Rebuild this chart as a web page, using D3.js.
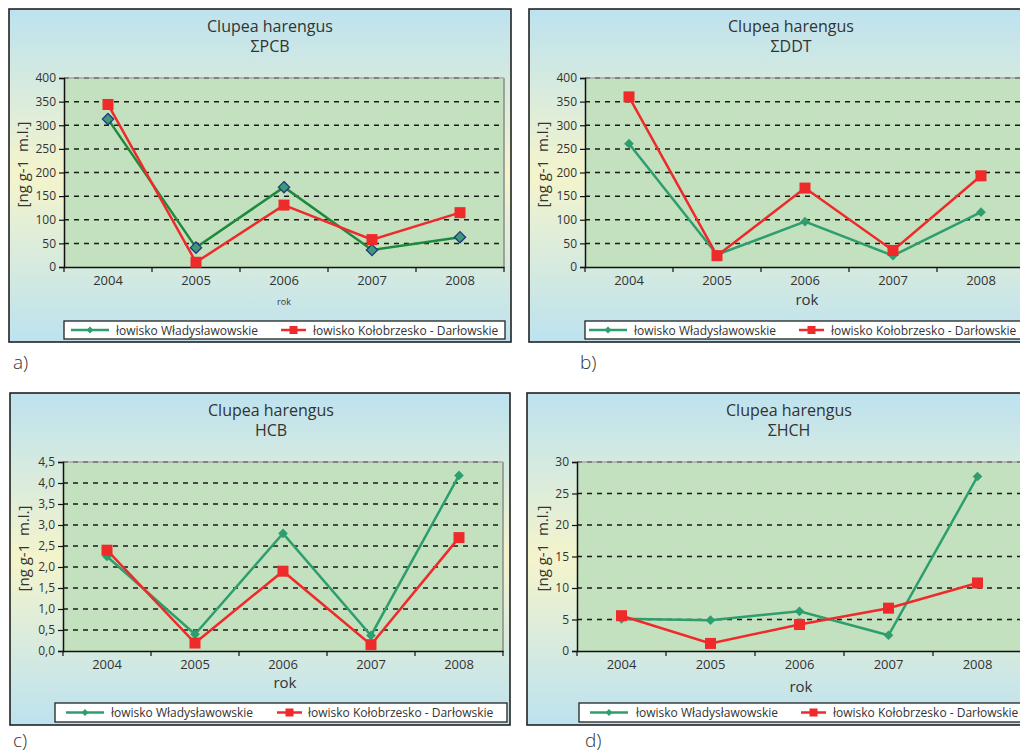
<!DOCTYPE html>
<html><head><meta charset="utf-8">
<script src="https://cdn.jsdelivr.net/npm/d3@7"></script>
<style>
html,body{margin:0;padding:0;background:#fff;}
svg{display:block;font-family:"Open Sans","Noto Sans",sans-serif;}
</style></head>
<body>
<svg id="chart" width="1020" height="753"></svg>
<script>
// ---------- data ----------
const years = ["2004", "2005", "2006", "2007", "2008"];
const seriesNames = ["łowisko Władysławowskie", "łowisko Kołobrzesko - Darłowskie"];
const chartTitle = "Clupea harengus";
const subTitles = ["ΣPCB", "ΣDDT", "HCB", "ΣHCH"];
const panelLabels = ["a)", "b)", "c)", "d)"];
const yAxisTitle = "[ng g-1  m.l.]";
const xAxisTitle = "rok";

const pcbWlad = [313, 41, 169, 36, 63];
const pcbKolo = [344, 10, 131, 58, 115];
const ddtWlad = [261, 26, 96, 24, 116];
const ddtKolo = [360, 24, 167, 35, 193];
const hcbWlad = [2.25, 0.40, 2.80, 0.37, 4.18];
const hcbKolo = [2.40, 0.19, 1.90, 0.15, 2.70];
const hchWlad = [5.1, 4.9, 6.3, 2.5, 27.7];
const hchKolo = [5.6, 1.2, 4.2, 6.8, 10.8];

const pcbTicks = [0, 50, 100, 150, 200, 250, 300, 350, 400];
const ddtTicks = [0, 50, 100, 150, 200, 250, 300, 350, 400];
const hcbTicks = [0, 0.5, 1.0, 1.5, 2.0, 2.5, 3.0, 3.5, 4.0, 4.5];
const hchTicks = [0, 5, 10, 15, 20, 25, 30];

// ---------- layout ----------
const panels = [
  {sub: 0, w: pcbWlad, k: pcbKolo, ticks: pcbTicks, dec: 0, dark: true,
   box: [9, 9, 502, 333], plot: [64, 78, 504, 267], titleX: 270, titleY: 32,
   yTitleX: 22, rokX: 284, rokY: 305, rokSize: 9, leg: [64, 321, 441, 18], legOff: [7, 52, 217, 249],
   lab: [13, 369]},
  {sub: 1, w: ddtWlad, k: ddtKolo, ticks: ddtTicks, dec: 0, dark: false,
   box: [529, 9, 502, 333], plot: [585, 78, 1025, 267], titleX: 791, titleY: 32,
   yTitleX: 542, rokX: 807, rokY: 305, rokSize: 15, leg: [585, 321, 441, 18], legOff: [4, 49, 214, 246],
   lab: [580, 369]},
  {sub: 2, w: hcbWlad, k: hcbKolo, ticks: hcbTicks, dec: 1, dark: false,
   box: [10, 393, 500, 332], plot: [63, 462, 503, 651], titleX: 271, titleY: 416,
   yTitleX: 23, rokX: 285, rokY: 688, rokSize: 15, leg: [55, 703, 452, 19], legOff: [11, 56, 222, 253],
   lab: [13, 747]},
  {sub: 3, w: hchWlad, k: hchKolo, ticks: hchTicks, dec: 0, dark: false,
   box: [527, 393, 503, 332], plot: [577, 462, 1022, 651], titleX: 789, titleY: 416,
   yTitleX: 542, rokX: 801, rokY: 692, rokSize: 15, leg: [579, 703, 450, 19], legOff: [11, 57, 222, 254],
   lab: [585, 747]}
];

const svg = d3.select("#chart");
const defs = svg.append("defs");
const bg = defs.append("linearGradient").attr("id", "bgGrad").attr("x1", 0).attr("y1", 0).attr("x2", 0).attr("y2", 1);
bg.append("stop").attr("offset", "0").attr("stop-color", "#bde2ef");
bg.append("stop").attr("offset", "0.5").attr("stop-color", "#f4f4cc");
bg.append("stop").attr("offset", "1").attr("stop-color", "#bde2ef");

const textCol = "#333";
const redCol = "#ee2a2a";
const fmtComma = d3.format(".1f");

panels.forEach(p => {
  const g = svg.append("g");
  const [bx, by, bw, bh] = p.box;
  g.append("rect").attr("x", bx).attr("y", by).attr("width", bw).attr("height", bh)
    .attr("fill", "url(#bgGrad)").attr("stroke", "#222").attr("stroke-width", 1.6);

  // titles
  g.append("text").attr("x", p.titleX).attr("y", p.titleY).attr("text-anchor", "middle")
    .attr("font-size", 16).attr("fill", textCol).text(chartTitle);
  g.append("text").attr("x", p.titleX).attr("y", p.titleY + 20).attr("text-anchor", "middle")
    .attr("font-size", 16).attr("fill", textCol).text(subTitles[p.sub]);

  const [x0, y0, x1, y1] = p.plot;
  const x = d3.scaleBand().domain(years).range([x0, x1]);
  const yMax = p.ticks[p.ticks.length - 1];
  const y = d3.scaleLinear().domain([0, yMax]).range([y1, y0]);

  g.append("rect").attr("x", x0).attr("y", y0).attr("width", x1 - x0).attr("height", y1 - y0)
    .attr("fill", "#c3e1be");
  g.append("line").attr("x1", x1).attr("x2", x1).attr("y1", y0).attr("y2", y1)
    .attr("stroke", "#8a8a8a").attr("stroke-width", 1.5);

  // grid
  p.ticks.filter(t => t > 0).forEach(t => {
    const isTop = t === yMax;
    if (isTop) {
      g.append("line").attr("x1", x0).attr("x2", x1).attr("y1", y(t)).attr("y2", y(t))
        .attr("stroke", "#a8a8a8").attr("stroke-width", 1.5);
    }
    g.append("line").attr("x1", x0).attr("x2", x1).attr("y1", y(t)).attr("y2", y(t))
      .attr("stroke", isTop ? "#707070" : "#1a1a1a").attr("stroke-width", 1.5)
      .attr("stroke-dasharray", "5,5");
  });

  // y axis
  const yAxis = d3.axisLeft(y).tickValues(p.ticks).tickSize(5).tickPadding(3)
    .tickFormat(d => p.dec ? fmtComma(d).replace(".", ",") : d3.format("d")(d));
  const ya = g.append("g").attr("transform", `translate(${x0},0)`).call(yAxis);
  ya.select(".domain").attr("stroke", "#111").attr("stroke-width", 1.5);
  ya.selectAll(".tick line").attr("stroke", "#111").attr("stroke-width", 1.2);
  ya.selectAll(".tick text").attr("font-size", 12).attr("fill", textCol)
    .attr("font-family", "'Open Sans',sans-serif");

  // x axis
  const xa = g.append("g").attr("transform", `translate(0,${y1})`)
    .call(d3.axisBottom(x).tickSize(0).tickPadding(9));
  xa.select(".domain").attr("stroke", "#111").attr("stroke-width", 1.5);
  xa.selectAll(".tick text").attr("font-size", 13).attr("fill", textCol)
    .attr("font-family", "'Open Sans',sans-serif");
  const edges = years.map(d => x(d)).concat([x1]);
  g.selectAll(null).data(edges).enter().append("line")
    .attr("x1", d => d).attr("x2", d => d).attr("y1", y1).attr("y2", y1 + 5)
    .attr("stroke", "#111").attr("stroke-width", 1.2);

  // axis titles
  g.append("text").attr("transform", `translate(${p.yTitleX},${(y0 + y1) / 2 - 8}) rotate(-90)`)
    .attr("text-anchor", "middle").attr("dominant-baseline", "central")
    .attr("font-size", 15).attr("fill", textCol).style("white-space", "pre").text(yAxisTitle);
  g.append("text").attr("x", p.rokX).attr("y", p.rokY).attr("text-anchor", "middle")
    .attr("font-size", p.rokSize).attr("fill", textCol).text(xAxisTitle);

  // series
  const greenLine = p.dark ? "#1f8a3e" : "#2e9e6e";
  const diamondFill = p.dark ? "#3a9a7a" : "#2e9e6e";
  const diamondStroke = p.dark ? "#283580" : "#2e9e6e";
  const line = d3.line().x((d, i) => x(years[i]) + x.bandwidth() / 2).y(d => y(d));

  g.append("path").datum(p.w).attr("d", line).attr("fill", "none")
    .attr("stroke", greenLine).attr("stroke-width", 2.5);
  g.append("path").datum(p.k).attr("d", line).attr("fill", "none")
    .attr("stroke", redCol).attr("stroke-width", 2.5);

  const diamond = d3.symbol().type(d3.symbolDiamond2).size(p.dark ? 80 : 60);
  g.selectAll(null).data(p.w).enter().append("path")
    .attr("d", diamond)
    .attr("transform", (d, i) => `translate(${x(years[i]) + x.bandwidth() / 2},${y(d)})`)
    .attr("fill", diamondFill).attr("stroke", diamondStroke).attr("stroke-width", p.dark ? 1.3 : 0);
  g.selectAll(null).data(p.k).enter().append("rect")
    .attr("x", (d, i) => x(years[i]) + x.bandwidth() / 2 - 5.5)
    .attr("y", d => y(d) - 5.5).attr("width", 11).attr("height", 11).attr("fill", redCol);

  // legend
  const [lx, ly, lw, lh] = p.leg;
  g.append("rect").attr("x", lx).attr("y", ly).attr("width", lw).attr("height", lh)
    .attr("fill", "#fff").attr("stroke", "#222").attr("stroke-width", 1.3);
  const cy = ly + lh / 2;
  const [o1, o2, o3, o4] = p.legOff;
  g.append("line").attr("x1", lx + o1).attr("x2", lx + o1 + 38).attr("y1", cy).attr("y2", cy)
    .attr("stroke", "#2e9e6e").attr("stroke-width", 2.5);
  g.append("path").attr("d", d3.symbol().type(d3.symbolDiamond2).size(30))
    .attr("transform", `translate(${lx + o1 + 19},${cy})`).attr("fill", "#2e9e6e");
  g.append("text").attr("x", lx + o2).attr("y", cy).attr("dominant-baseline", "central")
    .attr("font-size", 12).attr("fill", textCol).text(seriesNames[0]);
  g.append("line").attr("x1", lx + o3).attr("x2", lx + o3 + 25).attr("y1", cy).attr("y2", cy)
    .attr("stroke", redCol).attr("stroke-width", 2.5);
  g.append("rect").attr("x", lx + o3 + 12.5 - 4).attr("y", cy - 4).attr("width", 8).attr("height", 8)
    .attr("fill", redCol);
  g.append("text").attr("x", lx + o4).attr("y", cy).attr("dominant-baseline", "central")
    .attr("font-size", 12).attr("fill", textCol).text(seriesNames[1]);

  // panel label
  svg.append("text").attr("x", p.lab[0]).attr("y", p.lab[1]).attr("font-size", 19)
    .attr("fill", textCol).attr("font-weight", 300).text(panelLabels[p.sub]);
});
</script>
</body></html>
